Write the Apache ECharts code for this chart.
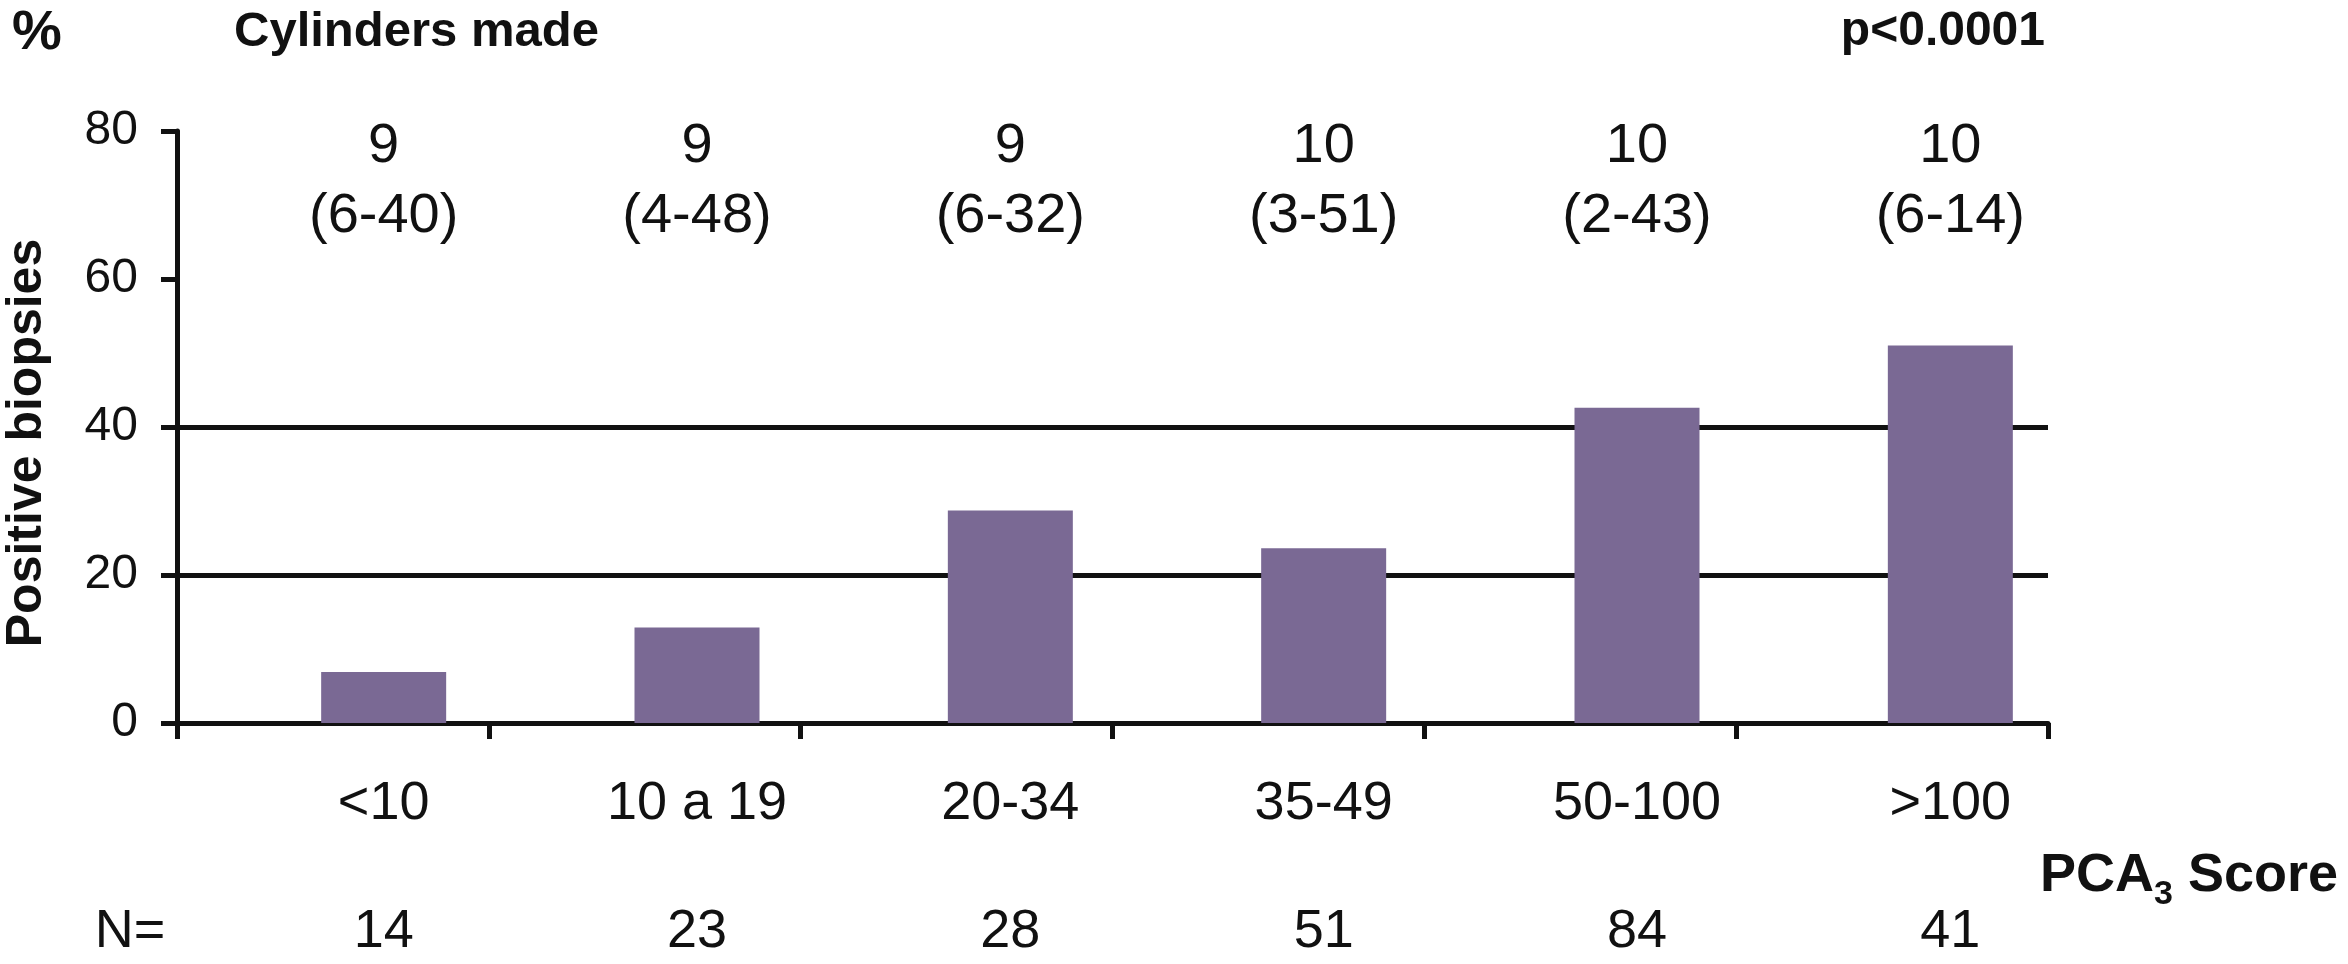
<!DOCTYPE html>
<html>
<head>
<meta charset="utf-8">
<script src="https://cdn.jsdelivr.net/npm/echarts@6/dist/echarts.min.js"></script>
<style>
html,body{margin:0;padding:0;background:#fff;}
#chart{width:2348px;height:964px;}
</style>
</head>
<body>
<div id="chart"></div>
<script>
// ---- data ----
const categories = ['<10', '10 a 19', '20-34', '35-49', '50-100', '>100'];
const positivePct = [6.9, 12.9, 28.7, 23.6, 42.6, 51.0];
const nValues = [14, 23, 28, 51, 84, 41];
const cylMedian = [9, 9, 9, 10, 10, 10];
const cylRange = ['6-40', '4-48', '6-32', '3-51', '2-43', '6-14'];
const yMin = 0, yMax = 80, yStep = 20;
const gridLineValues = [20, 40];

const FONT = "'Liberation Sans', Arial, Helvetica, sans-serif";
const INK = '#111111';
const BAR = '#7a6994';
const LW = 5;

const chart = echarts.init(document.getElementById('chart'), null, {renderer: 'canvas'});

// measure helper for the PCA3 subscript title
const mctx = document.createElement('canvas').getContext('2d');
function tw(text, size, weight) {
  mctx.font = (weight || 'normal') + ' ' + size + 'px ' + FONT;
  return mctx.measureText(text).width;
}
const pcaX = 2040;
const wPCA = tw('PCA', 54, 'bold');
const wSub = tw('3', 34, 'bold');

const splitColors = [];
for (let v = yMin; v <= yMax; v += yStep) {
  splitColors.push(gridLineValues.indexOf(v) >= 0 ? INK : 'rgba(0,0,0,0)');
}

const option = {
  backgroundColor: '#ffffff',
  animation: false,
  grid: [
    {left: 177, width: 1871, top: 131, height: 592, containLabel: false},
    {left: 227, width: 1880, top: 131, height: 592, containLabel: false}
  ],
  xAxis: [
    {
      gridIndex: 0, type: 'category', data: categories, boundaryGap: true,
      axisLine: {show: true, lineStyle: {color: INK, width: LW}},
      axisTick: {show: true, length: 16, inside: false, lineStyle: {color: INK, width: LW}},
      axisLabel: {show: false},
      splitLine: {show: false}
    },
    {
      gridIndex: 1, type: 'category', data: categories, boundaryGap: true, position: 'bottom',
      axisLine: {show: false}, axisTick: {show: false},
      axisLabel: {show: true, interval: 0, fontSize: 54, fontFamily: FONT, color: INK, margin: 54}
    },
    {
      gridIndex: 1, type: 'category', data: nValues.map(String), boundaryGap: true, position: 'bottom',
      axisLine: {show: false}, axisTick: {show: false},
      axisLabel: {show: true, interval: 0, fontSize: 54, fontFamily: FONT, color: INK, margin: 182}
    },
    {
      gridIndex: 1, type: 'category', data: categories, boundaryGap: true, position: 'top', offset: -300,
      axisLine: {show: false}, axisTick: {show: false},
      axisLabel: {
        show: true, interval: 0, fontSize: 56, lineHeight: 70, fontFamily: FONT, color: INK, margin: 179,
        formatter: function (v, i) { return cylMedian[i] + '\n(' + cylRange[i] + ')'; }
      }
    }
  ],
  yAxis: [
    {
      gridIndex: 0, type: 'value', min: yMin, max: yMax, interval: yStep,
      axisLine: {show: true, lineStyle: {color: INK, width: LW}},
      axisTick: {show: true, length: 16, lineStyle: {color: INK, width: LW}},
      axisLabel: {fontSize: 48, fontFamily: FONT, color: INK, margin: 39},
      splitLine: {show: true, lineStyle: {color: splitColors, width: LW}}
    },
    {
      gridIndex: 1, type: 'value', min: yMin, max: yMax, interval: yStep, show: false,
      splitLine: {show: false}
    }
  ],
  series: [
    {
      type: 'bar', xAxisIndex: 1, yAxisIndex: 1, data: positivePct,
      barWidth: 125, itemStyle: {color: BAR}, z: 3
    }
  ],
  graphic: [
    {type: 'text', left: 12, top: 6, style: {text: '%', fontSize: 56, fontWeight: 'bold', fontFamily: FONT, fill: INK}},
    {type: 'text', left: 234, top: 8, style: {text: 'Cylinders made', fontSize: 49, fontWeight: 'bold', fontFamily: FONT, fill: INK}},
    {type: 'text', right: 303, top: 8, style: {text: 'p<0.0001', fontSize: 48, fontWeight: 'bold', fontFamily: FONT, fill: INK}},
    {type: 'text', x: 27, y: 443, rotation: Math.PI / 2,
      style: {text: 'Positive biopsies', fontSize: 50, fontWeight: 'bold', fontFamily: FONT, fill: INK, textAlign: 'center', textVerticalAlign: 'middle'}},
    {type: 'text', x: 130, y: 932,
      style: {text: 'N=', fontSize: 54, fontFamily: FONT, fill: INK, textAlign: 'center', textVerticalAlign: 'middle'}},
    {type: 'text', x: pcaX, y: 876,
      style: {text: 'PCA', fontSize: 54, fontWeight: 'bold', fontFamily: FONT, fill: INK, textAlign: 'left', textVerticalAlign: 'middle'}},
    {type: 'text', x: pcaX + wPCA, y: 895,
      style: {text: '3', fontSize: 34, fontWeight: 'bold', fontFamily: FONT, fill: INK, textAlign: 'left', textVerticalAlign: 'middle'}},
    {type: 'text', x: pcaX + wPCA + wSub, y: 876,
      style: {text: ' Score', fontSize: 54, fontWeight: 'bold', fontFamily: FONT, fill: INK, textAlign: 'left', textVerticalAlign: 'middle'}}
  ]
};
chart.setOption(option);
</script>
</body>
</html>
